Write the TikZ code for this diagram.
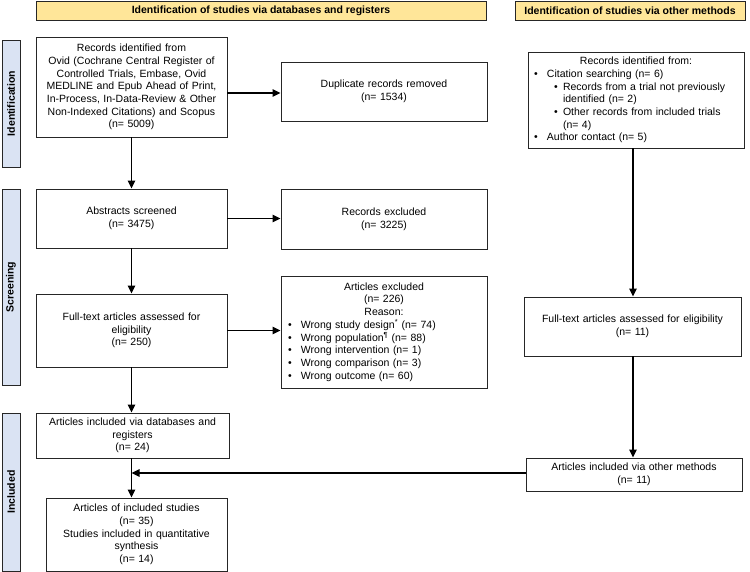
\documentclass[tikz,border=0pt]{standalone}
\usepackage{fontspec}
\setmainfont{Liberation Sans}
\usetikzlibrary{arrows.meta,calc}
\definecolor{hdrfill}{HTML}{FFE699}
\definecolor{sidefill}{HTML}{DAE3F3}
\definecolor{edge}{HTML}{262626}
\newcommand\bulA[1]{\makebox[13pt][l]{\textbullet}#1}
\newcommand\bulB[1]{\hspace*{20pt}\makebox[9pt][l]{\textbullet}#1}
\newcommand\contB[1]{\hspace*{29pt}#1}
\newcommand\contA[1]{\hspace*{13pt}#1}
\tikzset{
  txt/.style={font=\fontsize{10.5}{12.7}\selectfont},
  box/.style={txt, draw=edge, line width=0.9pt, fill=white, align=center, inner sep=0pt},
  lbox/.style={txt, draw=edge, line width=0.9pt, fill=white, align=left, inner sep=0pt},
  hdr/.style={draw=edge, line width=0.9pt, fill=hdrfill, inner sep=0pt,
    font=\fontsize{10.5}{12.7}\selectfont\bfseries},
  side/.style={draw=edge, line width=0.9pt, fill=sidefill, inner sep=0pt,
    font=\fontsize{10.5}{12.7}\selectfont\bfseries},
  sidetxt/.style={rotate=90, font=\fontsize{10.5}{12.7}\selectfont\bfseries},
  arr/.style={line width=1.3pt, -{Triangle[length=8pt,width=7.5pt]}},
  ln/.style={line width=1.3pt}
}
\begin{document}
\begin{tikzpicture}[x=1pt,y=-1pt]
\useasboundingbox (0,0) rectangle (750,572);
% headers
\node[hdr, minimum width=450pt, minimum height=19pt] (h1) at (261,10.5) {Identification of studies via databases and registers};
\node[hdr, minimum width=230pt, minimum height=19pt] (h2) at (630,10.5) {Identification of studies via other methods};
% side bars
\node[side, minimum width=18pt, minimum height=127pt] (s1) at (11,103.5) {};
\node[sidetxt] (s1t) at (s1.center) {Identification};
\node[side, minimum width=18pt, minimum height=196pt] (s2) at (11,287) {};
\node[sidetxt] (s2t) at (s2.center) {Screening};
\node[side, minimum width=18pt, minimum height=158pt] (s3) at (11,492) {};
\node[sidetxt] (s3t) at (s3.center) {Included};
% left column
\node[box, minimum width=191pt, minimum height=100pt, text width=185pt] (A) at (131.5,87)
 {Records identified from\\Ovid (Cochrane Central Register of\\Controlled Trials, Embase, Ovid\\MEDLINE and Epub Ahead of Print,\\In-Process, In-Data-Review \& Other\\Non-Indexed Citations) and Scopus\\(n= 5009)};
\node[box, minimum width=206pt, minimum height=59pt, text width=200pt] (dup) at (384,91.5)
 {Duplicate records removed\\(n= 1534)};
\node[box, minimum width=191pt, minimum height=59pt, text width=185pt] (abs) at (131.5,218.5)
 {Abstracts screened\\(n= 3475)};
\node[box, minimum width=206pt, minimum height=60pt, text width=200pt] (rex) at (384,219)
 {Records excluded\\(n= 3225)};
\node[box, minimum width=191pt, minimum height=73pt, text width=185pt] (ft) at (131.5,330.5)
 {Full-text articles assessed for\\eligibility\\(n= 250)};
\node[lbox, minimum width=206pt, minimum height=112pt, text width=192pt] (aex) at (384,332)
 {\makebox[\linewidth][c]{Articles excluded}\\
  \makebox[\linewidth][c]{(n= 226)}\\
  \makebox[\linewidth][c]{Reason:}\\
  \bulA{Wrong study design\textsuperscript{*} (n= 74)}\\
  \bulA{Wrong population\textsuperscript{¶} (n= 88)}\\
  \bulA{Wrong intervention (n= 1)}\\
  \bulA{Wrong comparison (n= 3)}\\
  \bulA{Wrong outcome (n= 60)}};
\node[box, minimum width=193pt, minimum height=45pt, text width=188pt] (incdb) at (132.5,435.5)
 {Articles included via databases and\\registers\\(n= 24)};
\node[box, minimum width=181pt, minimum height=73pt, text width=176pt] (incst) at (136.5,534.5)
 {Articles of included studies\\(n= 35)\\Studies included in quantitative\\synthesis\\(n= 14)};
% right column
\node[lbox, minimum width=216pt, minimum height=96pt, text width=204pt] (rec) at (636,100)
 {\makebox[\linewidth][c]{Records identified from:}\\
  \bulA{Citation searching (n= 6)}\\
  \bulB{Records from a trial not previously}\\
  \contB{identified (n= 2)}\\
  \bulB{Other records from included trials}\\
  \contB{(n= 4)}\\
  \bulA{Author contact (n= 5)}};
\node[box, minimum width=217pt, minimum height=59pt, text width=211pt] (ft2) at (632.5,326.5)
 {Full-text articles assessed for eligibility\\(n= 11)};
\node[box, minimum width=216pt, minimum height=33pt, text width=210pt] (inc2) at (634,474.5)
 {Articles included via other methods\\(n= 11)};
% connectors
\coordinate (a1) at (A.east |- 0,93);
\draw[arr] (a1) -- (a1 -| dup.west);
\draw[arr] (A.south) -- (abs.north);
\draw[arr] (abs.east) -- (abs.east -| rex.west);
\draw[arr] (abs.south) -- (ft.north);
\draw[arr] (ft.east) -- (ft.east -| aex.west);
\draw[arr] (ft.south) -- (ft.south |- incdb.north);
\draw[arr] (incdb.south -| ft.south) -- (ft.south |- incst.north);
\coordinate (rv) at (633,0);
\draw[arr] (rv |- rec.south) -- (rv |- ft2.north);
\draw[arr] (rv |- ft2.south) -- (rv |- inc2.north);
\coordinate (m) at (ft.south |- 0,473);
\draw[arr] (inc2.west |- m) -- (m);
\end{tikzpicture}
\end{document}
